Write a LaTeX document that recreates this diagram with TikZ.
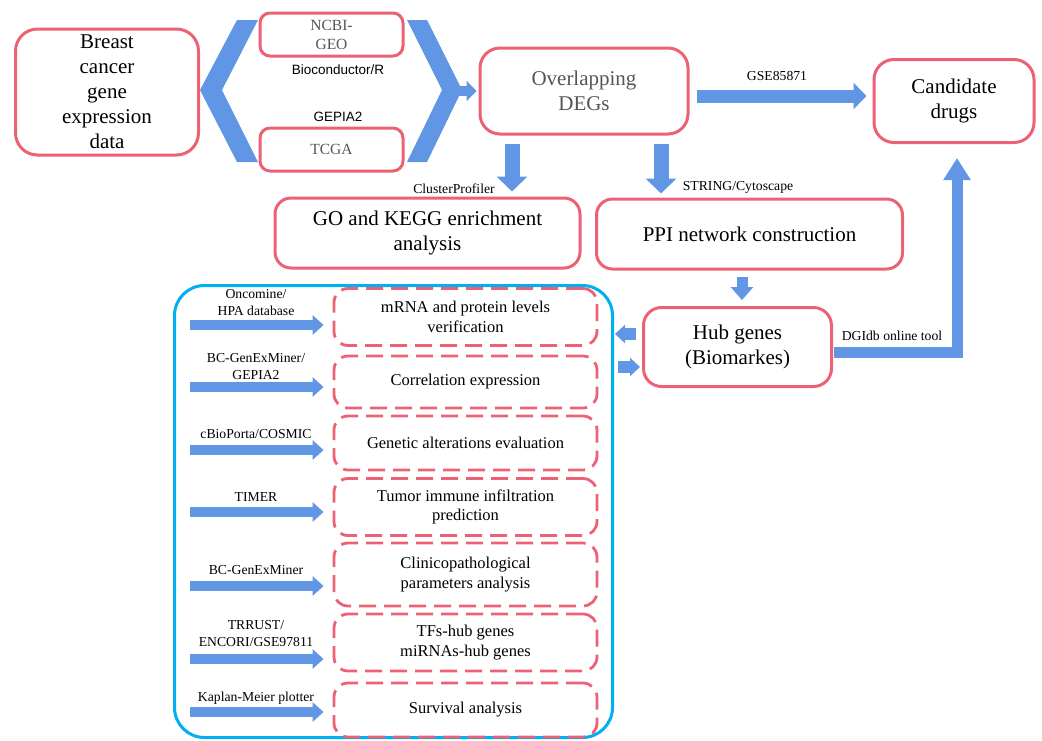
\documentclass[tikz,border=0pt]{standalone}
\usepackage{fontspec}
\setmainfont{Liberation Serif}
\newfontfamily\arialf{Liberation Sans}
\usetikzlibrary{arrows.meta}
\definecolor{boxred}{RGB}{236,98,116}
\definecolor{arrblue}{RGB}{96,150,228}
\definecolor{panelblue}{RGB}{0,176,240}
\definecolor{txtgray}{RGB}{85,85,85}
\begin{document}
\begin{tikzpicture}[x=1pt,y=-1pt,
  solidbox/.style={draw=boxred, line width=3pt, rounded corners=18pt, align=center, inner sep=0pt},
  dashbox/.style={draw=boxred, line width=2.8pt, rounded corners=14pt, dash pattern=on 17pt off 8pt, align=center, minimum width=263pt, inner sep=0pt, font=\fontsize{16.5}{19.5}\selectfont},
  bigtext/.style={font=\fontsize{21}{25}\selectfont},
  lbl/.style={font=\fontsize{13.7}{17}\selectfont, align=center, inner sep=0pt},
  sanslbl/.style={font=\arialf\fontsize{13.5}{16}\selectfont, inner sep=0pt},
  blockarrow/.style={draw=arrblue, line join=miter, line cap=butt},
  smallarrow/.style={blockarrow, line width=10pt, -{Triangle[length=11pt,width=19pt]}, shorten >=9pt},
]
\useasboundingbox (0,0) rectangle (1042,740);

% chevrons
\fill[arrblue] (237,20) -- (258,20) -- (222,90) -- (258,162) -- (237,162) -- (200,90) -- cycle;
\fill[arrblue] (407,20) -- (427,20) -- (462,90) -- (427,162) -- (407,162) -- (442,90) -- cycle;
\coordinate (chevtip) at (456,91);

% top boxes
\node[solidbox, bigtext, minimum width=183pt, minimum height=126pt, rounded corners=22pt] (breast) at (107,92) {Breast\\cancer\\gene\\expression\\data};
\node[solidbox, rounded corners=10pt, minimum width=143pt, minimum height=43pt, text=txtgray, font=\fontsize{15.5}{19}\selectfont] (ncbi) at (331.5,34.5) {NCBI-\\GEO};
\node[solidbox, rounded corners=10pt, minimum width=143pt, minimum height=43pt, text=txtgray, font=\fontsize{15.5}{19}\selectfont] (tcga) at (331.5,149.5) {TCGA};
\node[sanslbl] (bioc) at (338,70) {Bioconductor/R};
\node[sanslbl] (gepia) at (338,117) {GEPIA2};

\node[solidbox, bigtext, text=txtgray, minimum width=208pt, minimum height=86pt, rounded corners=20pt] (ovl) at (584,91) {Overlapping\\DEGs};
\node[solidbox, bigtext, minimum width=160pt, minimum height=83pt, rounded corners=20pt] (cand) at (954,101) {Candidate\\drugs};
\node[solidbox, bigtext, minimum width=305pt, minimum height=70pt, rounded corners=16pt] (go) at (427.5,233) {GO and KEGG enrichment\\analysis};
\node[solidbox, bigtext, minimum width=306pt, minimum height=70pt, rounded corners=16pt] (ppi) at (749.5,234) {PPI network construction};
\node[solidbox, bigtext, minimum width=188pt, minimum height=79pt, rounded corners=18pt] (hub) at (737.5,347) {Hub genes\\(Biomarkes)};

% labels
\node[lbl] (gse) at (777,76) {GSE85871};
\node[lbl] (clp) at (454,189) {ClusterProfiler};
\node[lbl] (strg) at (738,187) {STRING/Cytoscape};
\node[lbl] (dgi) at (892,336) {DGIdb online tool};

% panel
\node[draw=panelblue, line width=3pt, rounded corners=30pt, minimum width=438pt, minimum height=452pt, inner sep=0pt] (panel) at (393.5,511.5) {};

\node[dashbox, minimum height=57pt] (d1) at (465.5,317) {mRNA and protein levels\\verification};
\node[dashbox, minimum height=52pt] (d2) at (465.5,382) {Correlation expression};
\node[dashbox, minimum height=54pt] (d3) at (465.5,443) {Genetic alterations evaluation};
\node[dashbox, minimum height=57pt] (d4) at (465.5,507) {Tumor immune infiltration\\prediction};
\node[dashbox, minimum height=63pt] (d5) at (465.5,574.5) {Clinicopathological\\parameters analysis};
\node[dashbox, minimum height=57pt] (d6) at (465.5,642.5) {TFs-hub genes\\miRNAs-hub genes};
\node[dashbox, minimum height=54pt] (d7) at (465.5,710) {Survival analysis};

\node[lbl] (l1) at (256,302.5) {Oncomine/\\HPA database};
\node[lbl] (l2) at (256,366.5) {BC-GenExMiner/\\GEPIA2};
\node[lbl] (l3) at (256,434) {cBioPorta/COSMIC};
\node[lbl] (l4) at (256,497) {TIMER};
\node[lbl] (l5) at (256,570) {BC-GenExMiner};
\node[lbl] (l6) at (256,634) {TRRUST/\\ENCORI/GSE97811};
\node[lbl] (l7) at (256,698) {Kaplan-Meier plotter};

\coordinate (t1) at (190,325);
\coordinate (t2) at (190,387);
\coordinate (t3) at (190,450);
\coordinate (t4) at (190,512);
\coordinate (t5) at (190,586);
\coordinate (t6) at (190,659);
\coordinate (t7) at (190,712);

% arrows
\draw[blockarrow, line width=10pt, -{Triangle[length=10pt,width=20pt]}] (chevtip) -- ([xshift=-2pt]ovl.west);
\draw[blockarrow, line width=15pt, -{Triangle[length=15pt,width=30pt]}] ([xshift=-72pt,yshift=-8pt]ovl.south) -- ([xshift=84.5pt,yshift=5pt]go.north);
\draw[blockarrow, line width=15pt, -{Triangle[length=15pt,width=30pt]}] ([xshift=77pt,yshift=-8pt]ovl.south) -- ([xshift=-88.5pt,yshift=4pt]ppi.north);
\draw[blockarrow, line width=13pt, -{Triangle[length=13pt,width=26pt]}] ([xshift=7pt,yshift=-5pt]ovl.east) -- ([xshift=-6pt,yshift=5pt]cand.west);
\draw[blockarrow, line width=11pt, -{Triangle[length=13pt,width=22pt]}] ([xshift=-7.5pt,yshift=-6pt]ppi.south) -- ([xshift=4.5pt,yshift=6pt]hub.north);
\draw[blockarrow, line width=12pt, -{Triangle[length=10pt,width=18pt]}] ([xshift=-6pt,yshift=13pt]hub.west) -- ([xshift=1pt,yshift=177.5pt]panel.east);
\draw[blockarrow, line width=12pt, -{Triangle[length=10pt,width=18pt]}] ([xshift=4pt,yshift=144.5pt]panel.east) -- ([xshift=-2pt,yshift=-20pt]hub.west);
\draw[blockarrow, line width=11pt, -{Triangle[length=22pt,width=26pt]}] ([xshift=1pt,yshift=-5pt]hub.east) -| ([xshift=3pt,yshift=-14pt]cand.south);

\draw[smallarrow] (t1) -- (t1 -| d1.west);
\draw[smallarrow] (t2) -- (t2 -| d2.west);
\draw[smallarrow] (t3) -- (t3 -| d3.west);
\draw[smallarrow] (t4) -- (t4 -| d4.west);
\draw[smallarrow] (t5) -- (t5 -| d5.west);
\draw[smallarrow] (t6) -- (t6 -| d6.west);
\draw[smallarrow] (t7) -- (t7 -| d7.west);
\end{tikzpicture}
\end{document}
